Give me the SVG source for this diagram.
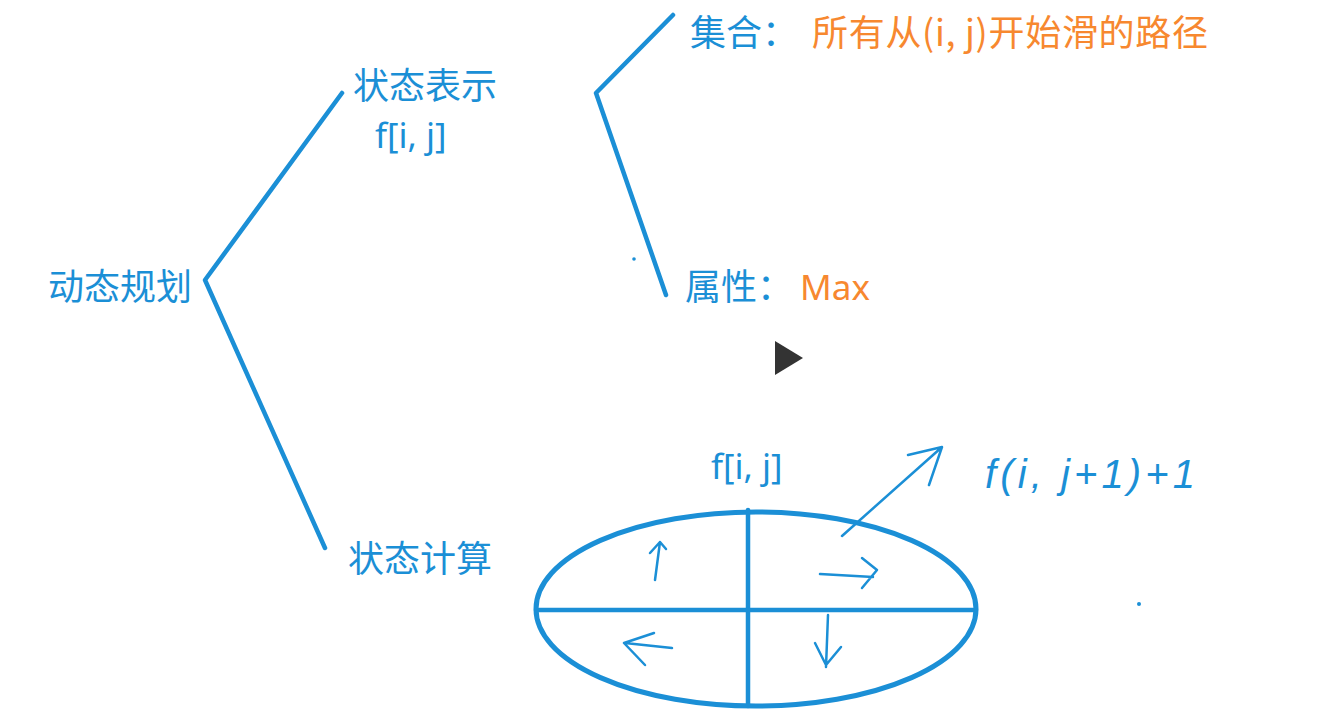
<svg xmlns="http://www.w3.org/2000/svg" width="1332" height="727" viewBox="0 0 1332 727">
<style>
.cjk{font-family:"Noto Sans CJK SC","Noto Sans",sans-serif;font-size:36px;}
.lat{font-family:"Noto Sans","Open Sans",sans-serif;font-size:35px;}
.blue{fill:#1b8fd6;}
.orange{fill:#f7882f;}
.ln{fill:none;stroke:#1b8fd6;stroke-width:4.5;stroke-linecap:round;stroke-linejoin:round;}
.hw{fill:none;stroke:#1b8fd6;stroke-width:2.5;stroke-linecap:round;stroke-linejoin:round;}
</style>
<rect width="1332" height="727" fill="#ffffff"/>
<g id="connectors">
<path class="ln" d="M342,93 L205,280 L325,548"/>
<path class="ln" d="M673,15 L596,93 L666,295"/>
</g>
<g id="dp"><text class="cjk blue" x="48" y="300">动态规划</text></g>
<g id="state-rep"><text class="cjk blue" x="353" y="99">状态表示</text><text class="lat blue" x="375" y="148">f[i, j]</text></g>
<g id="state-calc"><text class="cjk blue" x="348" y="572">状态计算</text></g>
<g id="set"><text class="cjk blue" x="690" y="46">集合：</text><text class="cjk orange" x="812" y="46" textLength="396">所有从(i, j)开始滑的路径</text></g>
<g id="attr"><text class="cjk blue" x="685" y="300">属性：</text><text class="lat orange" x="800" y="300">Max</text></g>
<g id="play"><polygon points="775,341 775,375 803,358" fill="#333333"/></g>
<g id="calc-diagram">
<text class="lat blue" x="711" y="479">f[i, j]</text>
<ellipse cx="756" cy="609" rx="220" ry="97" fill="none" stroke="#1b8fd6" stroke-width="5"/>
<line class="ln" x1="748" y1="510" x2="748" y2="706"/>
<line class="ln" x1="536" y1="610" x2="976" y2="610"/>
<path class="hw" d="M655,580 L660,542 M650,553 L660,542 L666,549"/>
<path class="hw" d="M820,574 L873,577 M862,558 L877,570 L862,588"/>
<path class="hw" d="M828,615 L826,667 M815,643 L826,665 L841,647"/>
<path class="hw" d="M672,648 L625,643 M654,633 L624,643 L645,665"/>
<path class="hw" d="M842,536 L942,447 M908,455 L942,447 L929,485"/>
<text x="985" y="488" font-family="Liberation Sans, sans-serif" font-style="italic" font-size="40" fill="#1b8fd6" textLength="210">f(i, j+1)+1</text>
</g>
<circle cx="634" cy="259" r="1.8" fill="#1b8fd6"/>
<circle cx="1139" cy="604" r="2" fill="#1b8fd6"/>
</svg>
